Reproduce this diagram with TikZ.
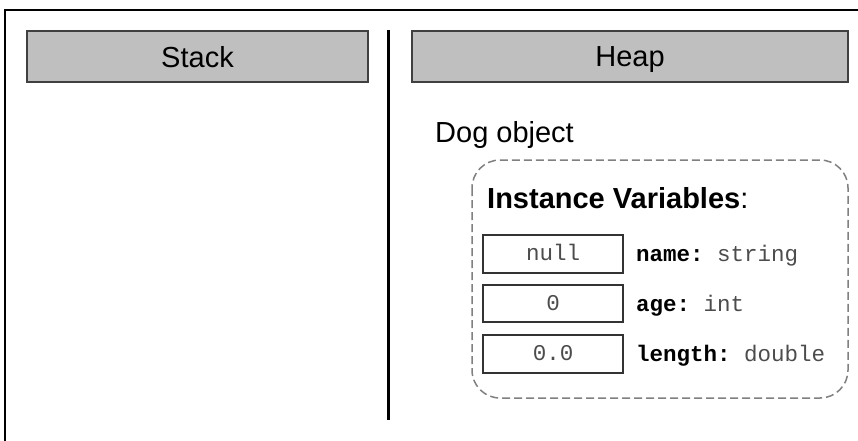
\documentclass[tikz,border=0pt]{standalone}
\usepackage{fontspec}
\setmainfont{Liberation Sans}
\setmonofont{Liberation Mono}
\begin{document}
\begin{tikzpicture}[x=1pt,y=-1pt,
  hdr/.style={draw=black!75,fill=black!25,line width=1.2pt},
  valbox/.style={draw=black!80,line width=1.3pt},
  bigtxt/.style={font=\fontsize{29}{34}\selectfont,inner sep=0pt,anchor=base},
  valtxt/.style={font=\ttfamily\fontsize{22.5}{26}\selectfont,text=black!70,inner sep=0pt,anchor=base},
  lbltxt/.style={font=\ttfamily\fontsize{22.5}{26}\selectfont,text=black!70,inner sep=0pt,anchor=base west}]
\useasboundingbox (0,0) rectangle (858,440);
\clip (0,0) rectangle (858,440);
\fill[white] (0,0) rectangle (858,440);
% outer frame (only top and left edges visible)
\draw[line width=2.2pt] (5,10) rectangle (880,460);
% headers
\draw[hdr] (27,31) rectangle (368,82);
\node[bigtxt] (stack) at (197.5,67) {Stack};
\draw[hdr] (412,31) rectangle (848,82);
\node[bigtxt] (heap) at (630,66) {Heap};
% divider
\draw[line width=3pt] (388,30) -- (388,420);
% dog object
\node[bigtxt,anchor=base west] (dog) at (435,142) {Dog object};
\draw[dashed,dash pattern=on 8pt off 4pt,draw=black!50,line width=1.5pt,rounded corners=28pt] (472,160) rectangle (848,398);
\node[bigtxt,anchor=base west] (iv) at (487,208) {\textbf{Instance Variables}:};
% value boxes
\draw[valbox] (483,235) rectangle (623,273);
\node[valtxt] (v1) at (553,260) {null};
\draw[valbox] (483,285) rectangle (623,322);
\node[valtxt] (v2) at (553,310) {0};
\draw[valbox] (483,335) rectangle (623,373);
\node[valtxt] (v3) at (553,360) {0.0};
\node[lbltxt] (l1) at (636,261) {\textbf{\textcolor{black}{name:}} string};
\node[lbltxt] (l2) at (636,311) {\textbf{\textcolor{black}{age:}} int};
\node[lbltxt] (l3) at (636,361) {\textbf{\textcolor{black}{length:}} double};
\end{tikzpicture}
\end{document}
